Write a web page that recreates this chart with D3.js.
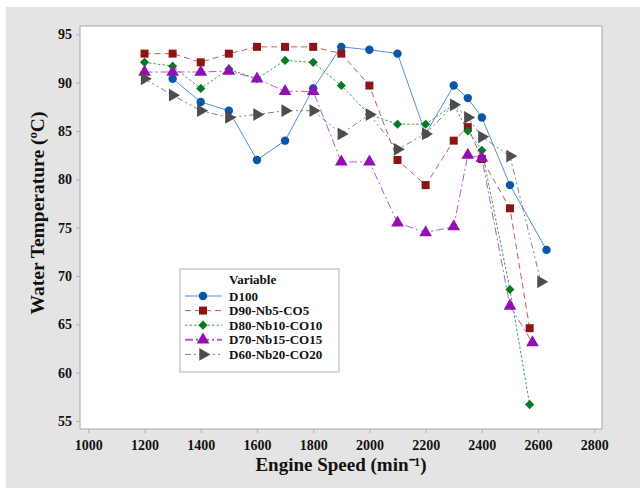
<!DOCTYPE html>
<html><head><meta charset="utf-8">
<script src="https://cdn.jsdelivr.net/npm/d3@7/dist/d3.min.js"></script>
<style>body{margin:0;background:#fff}svg{display:block}text{font-family:"Liberation Serif","Times New Roman",serif;font-weight:bold;fill:#111}</style>
</head><body><svg id="c" width="640" height="494"></svg>
<script>
const xTicks=[1000,1200,1400,1600,1800,2000,2200,2400,2600,2800];
const yTicks=[55,60,65,70,75,80,85,90,95];
const seriesNames=["D100","D90-Nb5-CO5","D80-Nb10-CO10","D70-Nb15-CO15","D60-Nb20-CO20"];
const d100X=[1300,1400,1500,1600,1700,1800,1900,2000,2100,2200,2300,2350,2400,2500,2630];
const d100Y=[90.4,88.0,87.1,82.0,84.0,89.4,93.7,93.4,93.0,84.7,89.7,88.4,86.4,79.4,72.7];
const d90X=[1200,1300,1400,1500,1600,1700,1800,1900,2000,2100,2200,2300,2350,2400,2500,2570];
const d90Y=[93.0,93.0,92.1,93.0,93.7,93.7,93.7,93.0,89.7,82.0,79.4,84.0,85.4,82.1,77.0,64.6];
const d80X=[1200,1300,1400,1500,1600,1700,1800,1900,2000,2100,2200,2300,2350,2400,2500,2570];
const d80Y=[92.1,91.7,89.4,91.4,90.4,92.3,92.1,89.7,86.7,85.7,85.7,87.7,85.0,83.0,68.6,56.7];
const d70X=[1200,1300,1400,1500,1600,1700,1800,1900,2000,2100,2200,2300,2350,2400,2500,2580];
const d70Y=[91.1,91.1,91.1,91.2,90.4,89.1,89.1,81.8,81.8,75.5,74.5,75.1,82.5,82.2,66.9,63.1];
const d60X=[1200,1300,1400,1500,1600,1700,1800,1900,2000,2100,2200,2300,2350,2400,2500,2610];
const d60Y=[90.4,88.7,87.1,86.4,86.7,87.1,87.1,84.7,86.7,83.1,84.7,87.7,86.4,84.4,82.4,69.4];

const styles=[
 {line:"#5a8fd0",marker:"#0b56a8",dash:null,sym:d3.symbolCircle,size:56,rot:0,w:1},
 {line:"#c05a5a",marker:"#8c1414",dash:"6,4",sym:d3.symbolSquare,size:64,rot:0,w:1},
 {line:"#3ea050",marker:"#087a25",dash:"2.5,2",sym:d3.symbolSquare,size:42,rot:45,w:1},
 {line:"#b25bd0",marker:"#9210b0",dash:"8,3,2,3",sym:d3.symbolTriangle,size:70,rot:0,w:1},
 {line:"#808080",marker:"#4d4d4d",dash:"6,3,2,3,2,3",sym:d3.symbolTriangle,size:70,rot:90,w:1}
];
const series=[[d100X,d100Y],[d90X,d90Y],[d80X,d80Y],[d70X,d70Y],[d60X,d60Y]].map((s,i)=>({
  name:seriesNames[i], pts:s[0].map((x,j)=>({x:x,y:s[1][j]})), st:styles[i]}));

const svg=d3.select("#c");
svg.append("rect").attr("x",6).attr("y",7).attr("width",634).attr("height",481).attr("fill","#e4e4e4");
const L=80,T=26,R=602,B=429;
svg.append("rect").attr("x",L).attr("y",T).attr("width",R-L).attr("height",B-T).attr("fill","#fff").attr("stroke","#b4b4b4").attr("stroke-width",1.2);

const x=d3.scaleLinear().domain([1000,2800]).range([88.3,594.3]);
const y=d3.scaleLinear().domain([55,95]).range([421,34.3]);

const xAxis=svg.append("g").attr("transform",`translate(0,${B})`).call(d3.axisBottom(x).tickValues(xTicks).tickSize(4).tickPadding(4).tickFormat(d3.format("d")));
const yAxis=svg.append("g").attr("transform",`translate(${L},0)`).call(d3.axisLeft(y).tickValues(yTicks).tickSize(4).tickPadding(4));
[xAxis,yAxis].forEach(a=>{a.select(".domain").remove();a.selectAll("line").attr("stroke","#b0b0b0");
 a.selectAll("text").style("font-size","14px").style("font-family","'Liberation Serif',serif").attr("fill","#111");});
xAxis.selectAll("text").attr("dy","0.9em");

svg.append("text").attr("x",(L+R)/2).attr("y",471).attr("text-anchor","middle").style("font-size","19px").text("Engine Speed (min⁻¹)");
svg.append("text").attr("transform",`translate(44,213) rotate(-90)`).attr("text-anchor","middle").style("font-size","19.5px").text("Water Temperature (ºC)");

const line=d3.line().x(d=>x(d.x)).y(d=>y(d.y));
series.forEach(s=>{
  svg.append("path").datum(s.pts).attr("d",line).attr("fill","none").attr("stroke",s.st.line).attr("stroke-width",s.st.w).attr("stroke-dasharray",s.st.dash);
});
series.forEach(s=>{
  svg.append("g").selectAll("path").data(s.pts).join("path")
   .attr("d",d3.symbol().type(s.st.sym).size(s.st.size))
   .attr("transform",d=>`translate(${x(d.x)},${y(d.y)}) rotate(${s.st.rot})`)
   .attr("fill",s.st.marker);
});

// legend
const lg=svg.append("g");
lg.append("rect").attr("x",180).attr("y",269).attr("width",159).attr("height",103).attr("fill","#fff").attr("stroke","#b4b4b4");
lg.append("text").attr("x",229).attr("y",284).style("font-size","13px").text("Variable");
series.forEach((s,i)=>{
  const cy=296+i*14.6;
  lg.append("line").attr("x1",185).attr("x2",222).attr("y1",cy).attr("y2",cy).attr("stroke",s.st.line).attr("stroke-dasharray",s.st.dash).attr("stroke-width",i===3?2:1);
  lg.append("path").attr("d",d3.symbol().type(s.st.sym).size(s.st.size)).attr("transform",`translate(203,${cy}) rotate(${s.st.rot})`).attr("fill",s.st.marker);
  lg.append("text").attr("x",229).attr("y",cy+4.5).style("font-size","13px").text(s.name);
});
</script></body></html>
